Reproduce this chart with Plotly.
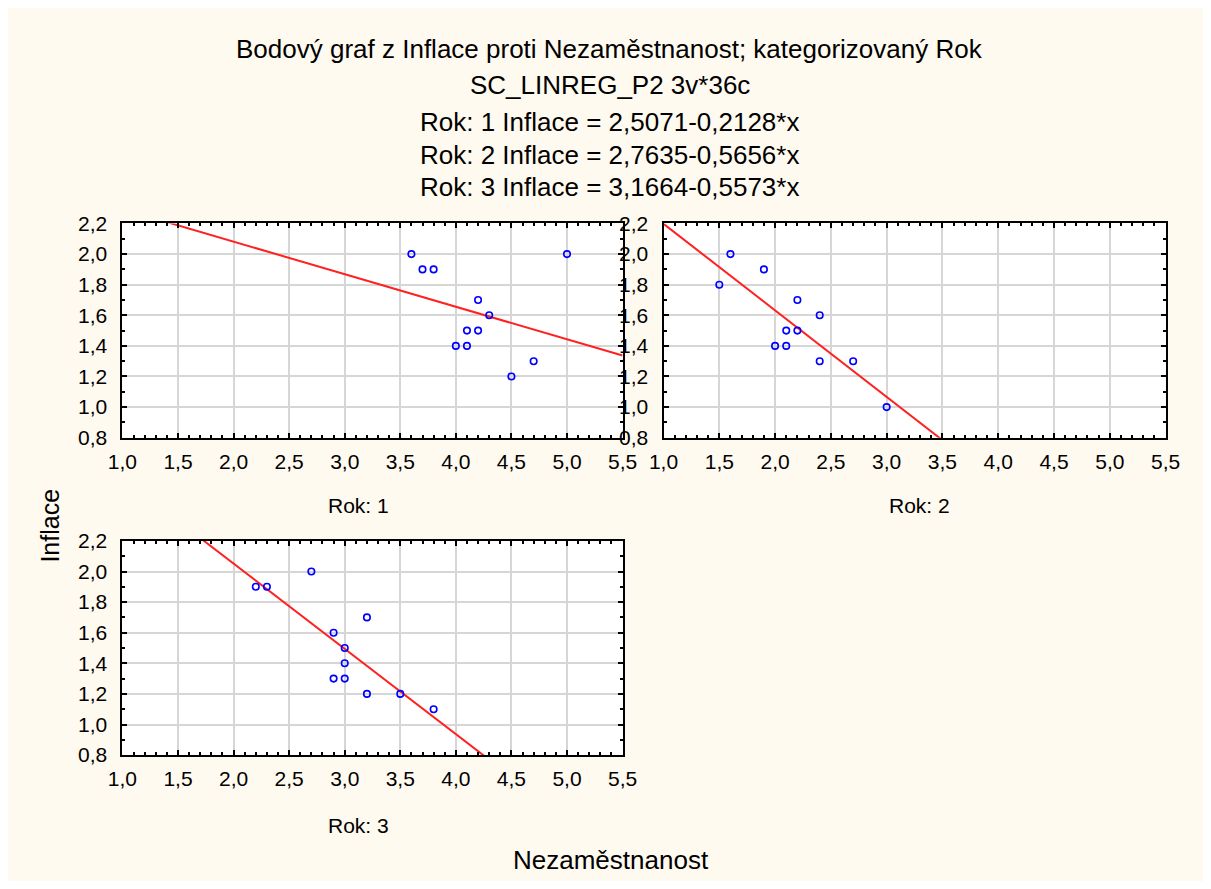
import plotly.graph_objects as go

# Data
rok1_x = [3.6, 3.7, 3.8, 5.0, 4.2, 4.3, 4.1, 4.2, 4.0, 4.1, 4.7, 4.5]
rok1_y = [2.0, 1.9, 1.9, 2.0, 1.7, 1.6, 1.5, 1.5, 1.4, 1.4, 1.3, 1.2]
rok2_x = [1.6, 1.9, 1.5, 2.2, 2.4, 2.1, 2.2, 2.0, 2.1, 2.4, 2.7, 3.0]
rok2_y = [2.0, 1.9, 1.8, 1.7, 1.6, 1.5, 1.5, 1.4, 1.4, 1.3, 1.3, 1.0]
rok3_x = [2.7, 2.2, 2.3, 3.2, 2.9, 3.0, 3.0, 2.9, 3.0, 3.2, 3.5, 3.8]
rok3_y = [2.0, 1.9, 1.9, 1.7, 1.6, 1.5, 1.4, 1.3, 1.3, 1.2, 1.2, 1.1]
intercepts = [2.5071, 2.7635, 3.1664]
slopes = [-0.2128, -0.5656, -0.5573]
panel_labels = ["Rok: 1", "Rok: 2", "Rok: 3"]
title_lines = [
    "Bodový graf z Inflace proti Nezaměstnanost; kategorizovaný Rok",
    "SC_LINREG_P2 3v*36c",
    "Rok: 1 Inflace = 2,5071-0,2128*x",
    "Rok: 2 Inflace = 2,7635-0,5656*x",
    "Rok: 3 Inflace = 3,1664-0,5573*x",
]
x_label = "Nezaměstnanost"
y_label = "Inflace"
x_range = [1.0, 5.5]
y_range = [0.8, 2.2]

# page has an 8px body margin; figure fills the rest of the 1211x889 window
OFF = 8
W, H = 1211 - 2 * OFF, 889 - 2 * OFF
FONT = "Liberation Sans, Arial, sans-serif"
BG = "#FFFAEF"


def px(x):
    return (x - OFF) / W


def py(y):
    return 1 - (y - OFF) / H


panels = [
    (rok1_x, rok1_y, (110, 623), (217, 437)),
    (rok2_x, rok2_y, (665, 1180), (217, 437)),
    (rok3_x, rok3_y, (110, 623), (543, 763)),
]

fig = go.Figure()
layout = {}
for i, (xs, ys, (x0, x1), (y0, y1)) in enumerate(panels):
    n = "" if i == 0 else str(i + 1)
    xa, ya = "x" + n, "y" + n
    line_x = [x_range[0], x_range[1]]
    line_y = [intercepts[i] + slopes[i] * v for v in line_x]
    fig.add_trace(go.Scatter(x=line_x, y=line_y, mode="lines",
                             line=dict(color="#FF2020", width=2),
                             xaxis=xa, yaxis=ya, showlegend=False, hoverinfo="skip"))
    fig.add_trace(go.Scatter(x=xs, y=ys, mode="markers",
                             marker=dict(symbol="circle-open", size=6.5, color="#0000FF",
                                         line=dict(width=1.6, color="#0000FF")),
                             xaxis=xa, yaxis=ya, showlegend=False))
    common = dict(showline=True, linecolor="black", linewidth=2, mirror="ticks",
                  ticks="inside", ticklen=5, tickwidth=1.5, tickcolor="black",
                  showgrid=True, gridcolor="#D6D6D6", gridwidth=1.5,
                  zeroline=False, tickformat=".1f",
                  tickfont=dict(family=FONT, size=21, color="#000000"))
    layout["xaxis" + n] = dict(common, domain=[px(x0), px(x1)], range=x_range,
                               dtick=0.5, tick0=1.0, anchor=ya, ticklabelstandoff=4,
                               minor=dict(dtick=0.1, ticks="inside", ticklen=3,
                                          tickcolor="black", showgrid=False))
    layout["yaxis" + n] = dict(common, domain=[py(y1), py(y0)], range=y_range,
                               dtick=0.2, tick0=0.8, anchor=xa, ticklabelstandoff=9,
                               minor=dict(dtick=0.1, ticks="inside", ticklen=3,
                                          tickcolor="black", showgrid=False))

annotations = []
title_y = [38, 75, 113, 147, 180]
for t, yy in zip(title_lines, title_y):
    annotations.append(dict(text=t, x=px(610), y=py(yy), xref="paper", yref="paper",
                            showarrow=False, xanchor="center", yanchor="middle",
                            font=dict(family=FONT, size=26, color="#000000")))
for lab, (cx, cy) in zip(panel_labels, [(352, 507), (928, 507), (352, 835)]):
    annotations.append(dict(text=lab, x=px(cx), y=py(cy), xref="paper", yref="paper",
                            showarrow=False, xanchor="center", yanchor="middle",
                            font=dict(family=FONT, size=21, color="#000000")))
annotations.append(dict(text=x_label, x=px(611), y=py(871), xref="paper", yref="paper",
                        showarrow=False, xanchor="center", yanchor="middle",
                        font=dict(family=FONT, size=26, color="#000000")))
annotations.append(dict(text=y_label, x=px(36), y=py(527), xref="paper", yref="paper",
                        showarrow=False, xanchor="center", yanchor="middle", textangle=-90,
                        font=dict(family=FONT, size=25, color="#000000")))

fig.update_layout(**layout)
fig.update_layout(width=W, height=H, margin=dict(l=0, r=0, t=0, b=0),
                  paper_bgcolor=BG, plot_bgcolor="white", separators=", ",
                  annotations=annotations, showlegend=False)

fig.write_html("out.html")
